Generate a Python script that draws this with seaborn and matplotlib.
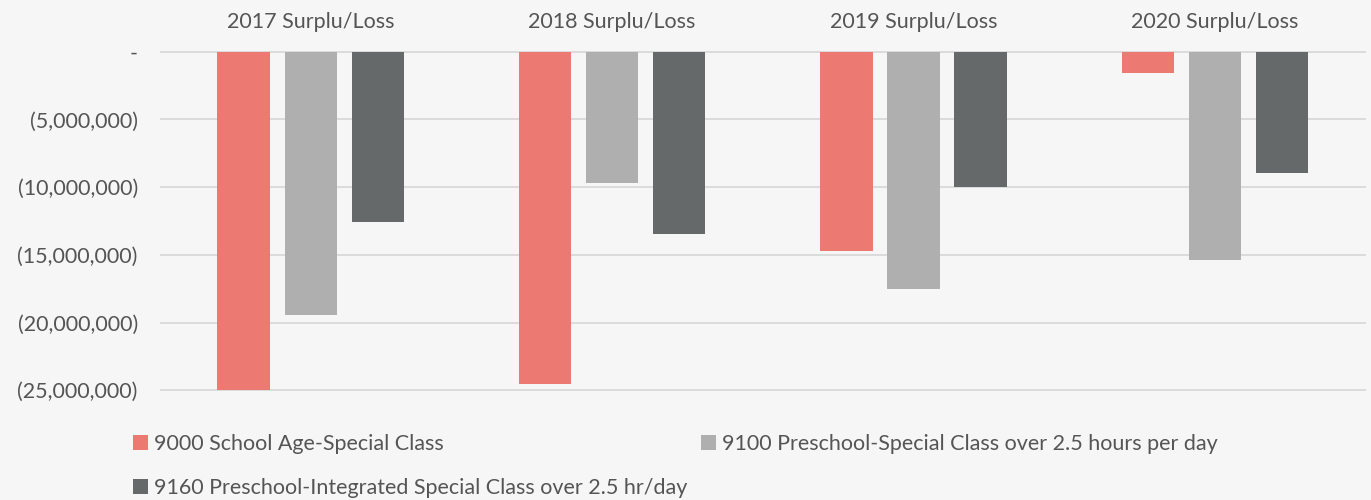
import pandas as pd
import numpy as np
import seaborn as sns
import matplotlib.pyplot as plt
from matplotlib.ticker import FuncFormatter

# surplus / loss per program, by year (dollars)
years = ["2017 Surplu/Loss", "2018 Surplu/Loss", "2019 Surplu/Loss", "2020 Surplu/Loss"]
programs = ["9000 School Age-Special Class",
            "9100 Preschool-Special Class over 2.5 hours per day",
            "9160 Preschool-Integrated Special Class over 2.5 hr/day"]
school_age = [-24980000, -24560000, -14700000, -1550000]
preschool_special = [-19470000, -9700000, -17500000, -15400000]
preschool_integrated = [-12560000, -13450000, -10000000, -8950000]
y_ticks = [0, -5000000, -10000000, -15000000, -20000000, -25000000]

df = pd.DataFrame({
    "year": years * 3,
    "program": [p for p in programs for _ in years],
    "value": school_age + preschool_special + preschool_integrated,
})

sns.set_theme(style="white")
plt.rcParams["font.family"] = ["Lato", "DejaVu Sans"]

fig = plt.figure(figsize=(13.71, 5), dpi=100, facecolor="#f6f6f6")
ax = fig.add_axes([0.1167, 0.218, 0.8793, 0.68])
ax.set_facecolor("#f6f6f6")

colors = ["#EC7A72", "#AEAFAE", "#666969"]
sns.barplot(data=df, x="year", y="value", hue="program", palette=colors,
            saturation=1, width=0.668, gap=0.22, ax=ax, zorder=3, edgecolor="none")

ax.set_ylim(-25.05e6, 0.05e6)
ax.set_yticks(y_ticks)
ax.yaxis.set_major_formatter(FuncFormatter(
    lambda v, p: "-" if v == 0 else "({:,.0f})".format(abs(v))))
ax.grid(axis="y", color="#d9d9d9", linewidth=1.3, zorder=0)
ax.grid(axis="x", visible=False)
for s in ax.spines.values():
    s.set_visible(False)

ax.xaxis.tick_top()
ax.set_xlabel("")
ax.set_ylabel("")
ax.tick_params(axis="x", length=0, pad=14, labelsize=15.5, labelcolor="#555555")
ax.tick_params(axis="y", length=0, pad=16, labelsize=15.5, labelcolor="#555555")

h, l = ax.get_legend_handles_labels()
ax.legend([h[0], h[2], h[1]], [l[0], l[2], l[1]], ncol=2, frameon=False,
          loc="upper left", bbox_to_anchor=(-0.0385, -0.07),
          fontsize=15.5, labelcolor="#555555", handlelength=0.7, handleheight=0.7,
          handletextpad=0.3, columnspacing=0.6, labelspacing=1.1)

plt.savefig("out.png", dpi=100, facecolor=fig.get_facecolor())
